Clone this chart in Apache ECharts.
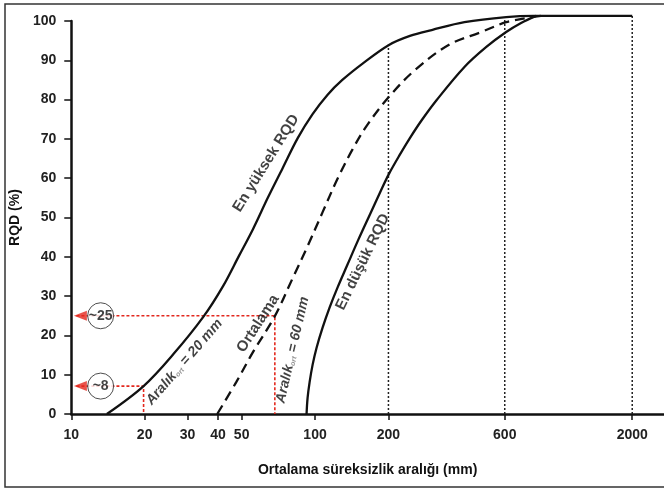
<!DOCTYPE html>
<html>
<head>
<meta charset="utf-8">
<script src="https://cdn.jsdelivr.net/npm/echarts@6/dist/echarts.min.js"></script>
<style>
  html, body { margin: 0; padding: 0; background: #fff; }
  #chart { width: 664px; height: 488px; }
</style>
</head>
<body>
<div id="chart"></div>
<script>
// eksen etiketleri (mm)
const xTicks = [10, 20, 30, 40, 50, 100, 200, 600, 2000]

// En yüksek RQD
const upperMM = [14.0, 19.8, 26.3, 34.8, 42.0, 48.8, 55.7, 64.0, 73.7, 84.9, 97.7, 112.4, 129.4, 156.2, 201, 245, 301, 410, 608, 791, 2000]
const upperRQD = [0, 7.1, 15.3, 24.7, 32.6, 40.3, 47.1, 55.0, 62.6, 70.2, 76.3, 81.2, 85.0, 89.1, 93.9, 96.2, 97.7, 99.7, 101.0, 101.3, 101.3]

// Ortalama
const avgMM = [39.7, 47.5, 55.7, 68.4, 81.0, 93.2, 107.3, 123.5, 142.1, 163.6, 201, 256.7, 353, 481, 608, 747, 845]
const avgRQD = [0, 8.1, 15.8, 24.9, 34.6, 42.7, 51.3, 59.8, 67.2, 73.5, 80.7, 87.5, 93.9, 97.2, 99.7, 100.8, 101.3]

// En düşük RQD
const lowerMM = [92.3, 93.2, 95.0, 97.7, 101.4, 107.3, 114.6, 123.5, 135.6, 150.4, 168.3, 188.4, 201, 220.9, 244.9, 274.2, 315.5, 410, 504.2, 608, 700, 806]
const lowerRQD = [0, 4.1, 8.1, 12.5, 16.8, 21.9, 27.0, 32.1, 37.9, 44.3, 50.9, 57.5, 61.1, 65.6, 70.2, 74.8, 79.9, 88.3, 93.4, 97.2, 99.5, 101.3]

// dikey kılavuz çizgileri
const guideMM = [200, 600, 2000]
const guideTop = [94.0, 101.0, 101.3]

// okuma örnekleri (kırmızı)
const readMM = [19.8, 68.4]
const readRQD = [7.1, 25]
const readText = ["~8", "~25"]
const arrowMM = 10.9
const lineStartMM = 10.5
const circleMM = 13.2

const FONT = "Liberation Sans, Arial, sans-serif"
const lg = v => Math.log10(v)
const pairs = (xs, ys) => xs.map((x, i) => [lg(x), ys[i]])

const curve = (name, xs, ys, type) => ({
    name,
    type: "line",
    data: pairs(xs, ys),
    smooth: 0.35,
    symbol: "none",
    clip: false,
    lineStyle: { color: "#111", width: 2.3, type },
    z: 5,
})

const series = [
    curve("En yüksek RQD", upperMM, upperRQD, "solid"),
    curve("Ortalama", avgMM, avgRQD, [10, 6]),
    curve("En düşük RQD", lowerMM, lowerRQD, "solid"),
]

guideMM.forEach((m, i) => {
    series.push({
        type: "line",
        data: [[lg(m), 0], [lg(m), guideTop[i]]],
        symbol: "none",
        clip: false,
        lineStyle: { color: "#222", width: 1.5, type: [2, 2] },
        z: 3,
    })
})

readMM.forEach((m, i) => {
    series.push({
        type: "line",
        data: [[lg(lineStartMM), readRQD[i]], [lg(m), readRQD[i]], [lg(m), 0]],
        symbol: "none",
        lineStyle: { color: "#e3281e", width: 1.6, type: [3, 2] },
        z: 4,
    })
})

series.push({
    type: "scatter",
    data: readRQD.map(r => [lg(arrowMM), r]),
    symbol: "triangle",
    symbolRotate: 90,
    symbolSize: [10, 13],
    itemStyle: { color: "#e3281e" },
    z: 6,
})

series.push({
    type: "scatter",
    data: readRQD.map((r, i) => ({ value: [lg(circleMM), r], label: { formatter: readText[i] } })),
    symbol: "circle",
    symbolSize: 26,
    itemStyle: { color: "#fff", borderColor: "#222", borderWidth: 1 },
    label: { show: true, position: "inside", color: "#111", fontSize: 14, fontWeight: "bold", fontFamily: FONT },
    z: 7,
})

// eğri üstü yazılar
const notes = [
    { mm: 63.0, rqd: 63.8, rot: 58, text: "En yüksek RQD", italic: false },
    { mm: 58.4, rqd: 23.0, rot: 57, text: "Ortalama", italic: false },
    { mm: 29.1, rqd: 13.2, rot: 49, text: "Aralık{s|ort} = 20 mm", italic: true },
    { mm: 80.9, rqd: 16.3, rot: 77, text: "Aralık{s|ort} = 60 mm", italic: true },
    { mm: 157.0, rqd: 38.7, rot: 64, text: "En düşük RQD", italic: false },
]
series.push({
    type: "scatter",
    symbolSize: 0,
    silent: true,
    data: notes.map(n => ({
        value: [lg(n.mm), n.rqd],
        label: {
            rotate: n.rot,
            formatter: n.text,
            fontStyle: n.italic ? "italic" : "normal",
            fontSize: n.italic ? 14 : 15,
        },
    })),
    label: {
        show: true,
        position: "inside",
        color: "#111",
        fontWeight: "bold",
        fontFamily: FONT,
        rich: { s: { fontSize: 7, color: "#777", fontWeight: "bold", padding: [7, 0, 0, 0] } },
    },
    z: 8,
})

const myChart = echarts.init(document.getElementById("chart"), null, { renderer: "canvas" })
myChart.setOption({
    animation: false,
    backgroundColor: "#fff",
    grid: { left: 67, right: 0, top: 21, bottom: 74 },
    xAxis: {
        type: "value",
        min: 1,
        max: lg(2700),
        name: "Ortalama süreksizlik aralığı (mm)",
        nameLocation: "middle",
        nameGap: 49,
        nameTextStyle: { color: "#111", fontSize: 14, fontWeight: "bold", fontFamily: FONT },
        axisLine: { lineStyle: { color: "#111", width: 2.5 } },
        axisTick: { show: true, length: 6, lineStyle: { color: "#111", width: 1.5 }, customValues: xTicks.map(lg) },
        axisLabel: {
            customValues: xTicks.map(lg),
            formatter: v => String(Math.round(Math.pow(10, v))),
            margin: 14,
            color: "#222",
            fontSize: 14,
            fontWeight: "bold",
            fontFamily: FONT,
        },
        splitLine: { show: false },
    },
    yAxis: {
        type: "value",
        min: 0,
        max: 100,
        interval: 10,
        name: "RQD (%)",
        nameLocation: "middle",
        nameGap: 36,
        nameTextStyle: { color: "#111", fontSize: 14, fontWeight: "bold", fontFamily: FONT },
        axisLine: { show: true, lineStyle: { color: "#111", width: 2.5 } },
        axisTick: { show: true, length: 7, lineStyle: { color: "#111", width: 1.5 } },
        axisLabel: { margin: 15, color: "#222", fontSize: 14, fontWeight: "bold", fontFamily: FONT },
        splitLine: { show: false },
    },
    graphic: [
        {
            type: "rect",
            shape: { x: 5, y: 4, width: 700, height: 483 },
            style: { fill: "none", stroke: "#333", lineWidth: 1.5 },
            silent: true,
            z: -1,
        },
    ],
    series,
})
</script>
</body>
</html>
